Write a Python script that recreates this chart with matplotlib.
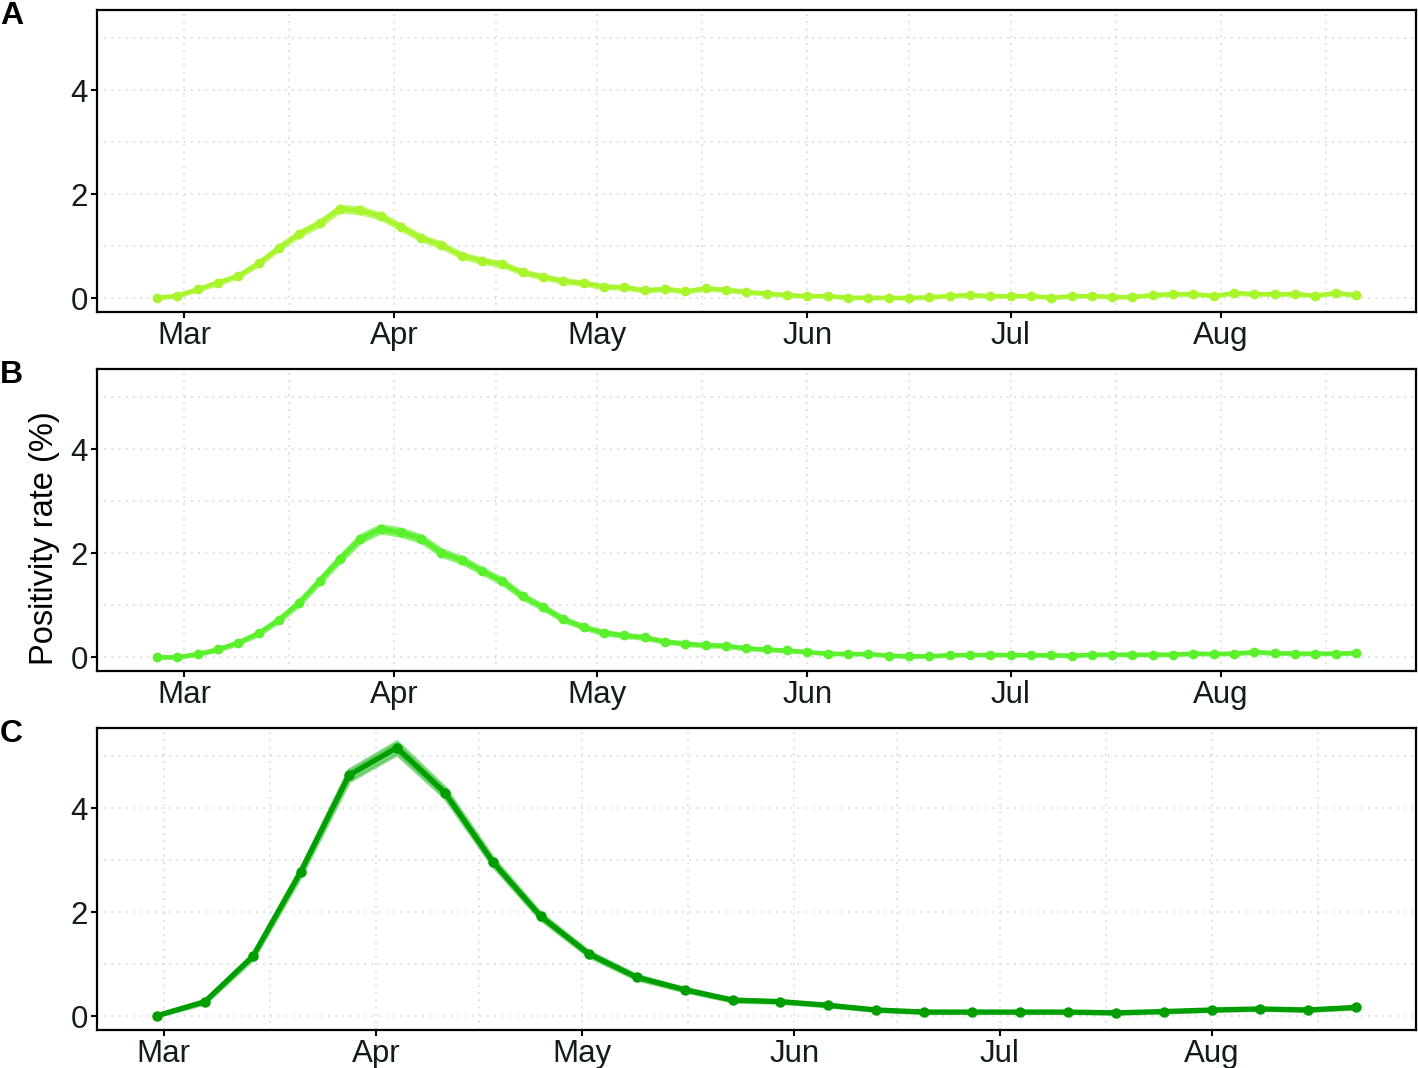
import numpy as np
import pandas as pd
import matplotlib
matplotlib.use("Agg")
import matplotlib.pyplot as plt
import matplotlib.dates as mdates

plt.rcParams['font.family'] = ['Liberation Sans', 'DejaVu Sans']

# panel A / B: every 3 days, panel C: weekly
dates_ab = pd.date_range("2020-02-26", periods=60, freq="3D")
dates_c = pd.date_range("2020-02-29", periods=26, freq="7D")

rate_a = [0.006, 0.05, 0.17, 0.30, 0.43, 0.67, 0.97, 1.24, 1.44, 1.72,
          1.69, 1.58, 1.37, 1.16, 1.02, 0.82, 0.72, 0.65, 0.50, 0.41,
          0.33, 0.29, 0.22, 0.21, 0.15, 0.18, 0.13, 0.19, 0.16, 0.12,
          0.09, 0.06, 0.04, 0.045, 0.01, 0.01, 0.01, 0.006, 0.02, 0.045,
          0.06, 0.04, 0.04, 0.045, 0.01, 0.04, 0.045, 0.025, 0.025, 0.06,
          0.08, 0.08, 0.045, 0.10, 0.08, 0.08, 0.08, 0.05, 0.10, 0.06]
err_a = [0.01, 0.015, 0.02, 0.025, 0.03, 0.035, 0.04, 0.045, 0.05, 0.055,
         0.055, 0.05, 0.05, 0.045, 0.045, 0.04, 0.04, 0.035, 0.035, 0.03,
         0.03, 0.03, 0.025, 0.025, 0.02, 0.02, 0.02, 0.02, 0.02, 0.02,
         0.015, 0.015, 0.01, 0.01, 0.01, 0.01, 0.01, 0.01, 0.01, 0.01,
         0.015, 0.01, 0.01, 0.01, 0.01, 0.01, 0.01, 0.01, 0.01, 0.015,
         0.015, 0.015, 0.01, 0.015, 0.015, 0.015, 0.015, 0.01, 0.015, 0.015]

rate_b = [0.0, 0.0, 0.06, 0.15, 0.28, 0.46, 0.72, 1.05, 1.47, 1.89,
          2.28, 2.47, 2.40, 2.28, 2.01, 1.87, 1.66, 1.46, 1.17, 0.96,
          0.73, 0.58, 0.47, 0.42, 0.38, 0.30, 0.26, 0.23, 0.22, 0.17,
          0.15, 0.13, 0.10, 0.07, 0.064, 0.064, 0.03, 0.02, 0.02, 0.04,
          0.045, 0.045, 0.045, 0.04, 0.04, 0.03, 0.05, 0.05, 0.05, 0.05,
          0.05, 0.07, 0.064, 0.07, 0.10, 0.08, 0.07, 0.07, 0.07, 0.08]
err_b = [0.01, 0.01, 0.015, 0.02, 0.025, 0.03, 0.035, 0.045, 0.05, 0.06,
         0.065, 0.065, 0.065, 0.06, 0.06, 0.055, 0.05, 0.05, 0.045, 0.04,
         0.035, 0.03, 0.03, 0.025, 0.025, 0.02, 0.02, 0.02, 0.02, 0.015,
         0.015, 0.015, 0.01, 0.01, 0.01, 0.01, 0.01, 0.01, 0.01, 0.01,
         0.01, 0.01, 0.01, 0.01, 0.01, 0.01, 0.01, 0.01, 0.01, 0.01,
         0.01, 0.01, 0.01, 0.01, 0.015, 0.01, 0.01, 0.01, 0.01, 0.01]

rate_c = [0.01, 0.28, 1.15, 2.78, 4.63, 5.16, 4.30, 2.97, 1.92, 1.20,
          0.75, 0.51, 0.31, 0.28, 0.21, 0.12, 0.08, 0.08, 0.08, 0.08,
          0.065, 0.09, 0.12, 0.14, 0.12, 0.17]
err_c = [0.01, 0.03, 0.05, 0.08, 0.11, 0.12, 0.1, 0.08, 0.06, 0.05,
         0.04, 0.03, 0.025, 0.02, 0.02, 0.015, 0.015, 0.015, 0.015, 0.015,
         0.015, 0.015, 0.015, 0.015, 0.015, 0.02]

panels = [
    ("A", dates_ab, rate_a, err_a, "#A8F52C", "#B8F55A", 0.8, 3.0, 6.0),
    ("B", dates_ab, rate_b, err_b, "#5AF02C", "#72F050", 0.8, 3.0, 6.0),
    ("C", dates_c, rate_c, err_c, "#009E00", "#52C852", 0.7, 3.8, 6.5),
]

W, H = 1418, 1068
fig = plt.figure(figsize=(W / 100, H / 100), dpi=100)

# axes boxes in pixels: top, bottom
boxes = [(10, 312), (369, 671), (728, 1030)]
left, right = 97, 1416
grid_col = "#d3e0e0"
txt_col = "#121c1e"

month_starts = pd.date_range("2020-02-01", "2020-10-01", freq="MS")
mnum = mdates.date2num(month_starts.to_pydatetime())
minor_x = (mnum[:-1] + mnum[1:]) / 2

for (label, dts, rate, err, col, fcol, falpha, lw, ms), (top, bot) in zip(panels, boxes):
    ax = fig.add_axes([left / W, 1 - bot / H, (right - left) / W, (bot - top) / H])
    rate = np.array(rate)
    err = np.array(err)
    ax.fill_between(dts, rate - err, rate + err, color=fcol, alpha=falpha,
                    linewidth=2.5, edgecolor=fcol, zorder=2)
    ax.plot(dts, rate, color=col, lw=lw, marker="o", ms=ms, zorder=3)

    ax.set_ylim(-0.265, 5.54)
    ax.set_yticks([0, 2, 4])
    ax.set_yticks([1, 3, 5], minor=True)
    ax.xaxis.set_major_locator(mdates.MonthLocator())
    ax.xaxis.set_major_formatter(mdates.DateFormatter("%b"))
    ax.set_xticks(minor_x, minor=True)
    ax.margins(x=0.05)

    ax.grid(True, which="both", color=grid_col, lw=1.3, linestyle=(0, (1, 3)), zorder=0)
    ax.set_axisbelow(True)
    ax.tick_params(which="major", length=4.5, width=1.5, color="black",
                   labelsize=22.5, labelcolor=txt_col, pad=2)
    ax.tick_params(which="minor", length=0)
    for s in ax.spines.values():
        s.set_linewidth(1.6)
        s.set_color("black")

    fig.text(0, 1 - (top - 9) / H, label, fontsize=23, fontweight="bold",
             ha="left", va="top")

fig.text(45 / W, 1 - 538 / H, "Positivity rate (%)", fontsize=23.5, rotation=90,
         ha="center", va="center", color="black")

fig.savefig("out.png", dpi=100)
